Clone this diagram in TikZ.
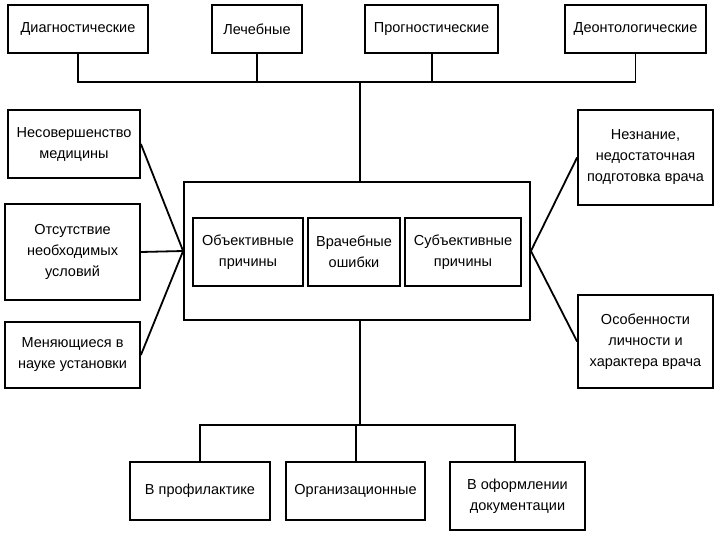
\documentclass[tikz,border=0pt]{standalone}
\usepackage{fontspec}
\setmainfont{Liberation Sans}
\usetikzlibrary{positioning}
\begin{document}
\begin{tikzpicture}[x=1pt,y=-1pt,
  bx/.style={draw,line width=1.8pt,fill=white,align=center,inner sep=0pt,font=\fontsize{14.5}{21}\selectfont,
    postaction={draw,line width=1.2pt,shift={(1pt,-1pt)}}},
  ln/.style={line width=1.8pt}]
\useasboundingbox (0,0) rectangle (720,540);
\newcommand\bxx[6]{\node[bx,minimum width=#4-#2,minimum height=#5-#3] (#1) at ({(#2+#4)/2},{(#3+#5)/2}) {#6};}
% top
\bxx{d}{8}{5}{148}{53}{Диагностические}
\bxx{l}{212}{5}{302}{53}{Лечебные}
\bxx{p}{365}{5}{498}{53}{Прогностические}
\bxx{o}{565}{5}{706}{53}{Деонтологические}
\coordinate (bus) at (360,82);
\draw[ln] (d.south) |- (bus) -| (o.south);
\draw[ln] (l.south) -- (l.south |- bus);
\draw[ln] ([xshift=0.5pt]p.south) -- ([xshift=0.5pt]p.south |- bus);
% center
\bxx{c}{184}{182}{530}{320}{}
\draw[ln] (bus) -- (c.north -| bus);
\bxx{ob}{193}{218}{303}{286}{Объективные\\причины}
\bxx{vr}{308}{218}{400}{286}{Врачебные\\ошибки}
\bxx{sb}{405}{218}{521}{286}{Субъективные\\причины}
% left
\bxx{l1}{8}{110}{140}{178}{Несовершенство\\медицины}
\bxx{l2}{5}{204}{140}{300}{Отсутствие\\необходимых\\условий}
\bxx{l3}{5}{322}{140}{388}{Меняющиеся в\\науке установки}
\draw[ln] (l1.east) -- (c.west);
\draw[ln] (l2.east) -- (c.west);
\draw[ln] (l3.east) -- (c.west);
% right
\bxx{r1}{578}{110}{713}{205}{Незнание,\\недостаточная\\подготовка врача}
\bxx{r2}{578}{295}{713}{388}{Особенности\\личности и\\характера врача}
\draw[ln] (c.east) -- (r1.west);
\draw[ln] (c.east) -- (r2.west);
% bottom
\bxx{b1}{130}{462}{270}{520}{В профилактике}
\bxx{b2}{286}{462}{425}{520}{Организационные}
\bxx{b3}{450}{462}{585}{530}{В оформлении\\документации}
\coordinate (bb) at (360,425);
\draw[ln] (c.south -| bb) -- (bb);
\draw[ln] (b1.north -| 200,0) |- (bb) -| (b3.north -| 515,0);
\draw[ln] ([xshift=0.5pt]b2.north) -- ([xshift=0.5pt]b2.north |- bb);
\end{tikzpicture}
\end{document}
